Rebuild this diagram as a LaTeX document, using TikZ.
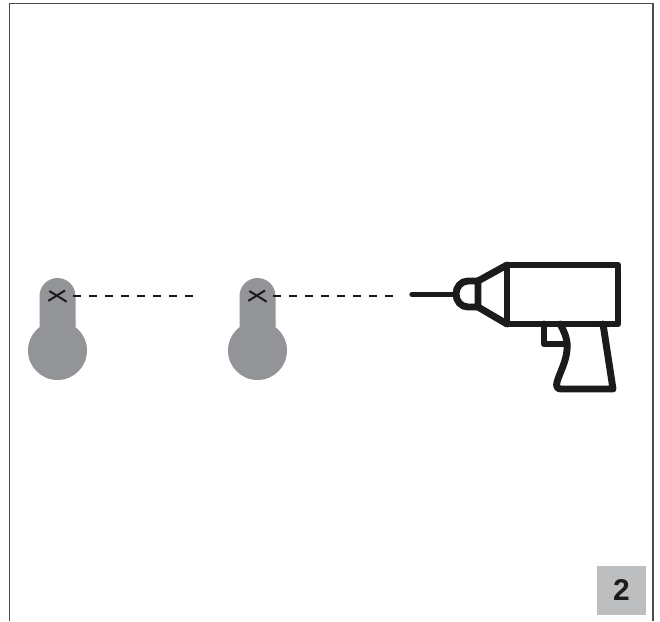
\documentclass[tikz,border=0pt]{standalone}
\usepackage{xcolor}
\usepackage{fontspec}
\setmainfont{Liberation Sans}
\usepackage{tikz}
\definecolor{grisTrou}{RGB}{146,148,151}
\definecolor{grisCase}{RGB}{188,190,192}
\definecolor{noirTrait}{RGB}{28,26,27}

\begin{document}
\begin{tikzpicture}[x=0.75pt,y=-0.75pt,
  trou/.style={fill=grisTrou,draw=none},
  repere/.style={noirTrait,line width=1.5pt},
  pointille/.style={noirTrait,line width=1.6pt,dash pattern=on 6pt off 6pt},
  perceuse/.style={noirTrait,line width=5.2pt,line join=round,line cap=round},
  case/.style={rectangle,fill=grisCase,minimum size=36.75pt,inner sep=0pt,
               font=\fontsize{22.5}{24}\selectfont\bfseries,text=noirTrait}]

  \useasboundingbox (0,0) rectangle (660,621);

  % cadre
  \draw[black!70,line width=1.2pt] (9.5,621) -- (9.5,3.5) -- (652.7,3.5) -- (652.7,621);

  % premier trou
  \fill[trou] (39.5,296) arc[start angle=180,end angle=360,radius=18] -- (75.5,327) -- (39.5,327) -- cycle;
  \fill[trou] (57.5,350.5) circle[radius=29.5];
  \coordinate (D1) at (73,296);
  \coordinate (F1) at (196,296);
  \draw[repere] (48.3,300.8) -- (65,290.5);
  \draw[repere] (49.3,291) -- (66.7,301.7);
  \draw[pointille] (D1) -- (F1);

  % second trou
  \fill[trou] (239.5,296) arc[start angle=180,end angle=360,radius=18] -- (275.5,327) -- (239.5,327) -- cycle;
  \fill[trou] (257.5,350.5) circle[radius=29.5];
  \coordinate (D2) at (273,296);
  \coordinate (F2) at (396,296);
  \draw[repere] (248.3,300.8) -- (265,290.5);
  \draw[repere] (249.3,291) -- (266.7,301.7);
  \draw[pointille] (D2) -- (F2);

  % perceuse
  \draw[perceuse,line width=4pt] (412,294.5) -- (455,294.5);
  \draw[perceuse] (478,281) -- (468,281) .. controls (461,281) and (456,287) .. (456,294)
    .. controls (456,301) and (461,307) .. (468,307) -- (478,307) -- cycle;
  \draw[perceuse] (478,281) -- (507,265);
  \draw[perceuse] (478,307) -- (507,324);
  \draw[perceuse] (507,265) rectangle (618,324);
  \draw[perceuse] (544,324) -- (544,344) -- (563,344);
  \draw[perceuse] (560,324) .. controls (565,333) and (568,340) .. (567,350)
    .. controls (566,362) and (560,372) .. (557,382)
    .. controls (556,386) and (557,389) .. (561,389) -- (613,389) -- (603,324);

  \node[case] (N2) at (621.5,590.5) {2};
\end{tikzpicture}
\end{document}
